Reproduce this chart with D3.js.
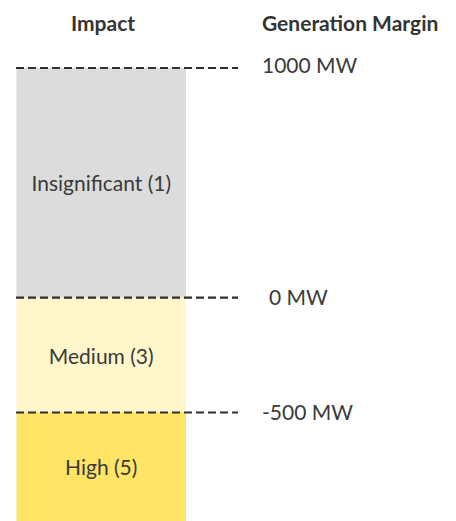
<!DOCTYPE html>
<html>
<head>
<meta charset="utf-8">
<script src="https://cdn.jsdelivr.net/npm/d3@7"></script>
<style>
  html, body { margin: 0; padding: 0; background: #fff; }
  svg { display: block; font-family: Lato, "Open Sans", sans-serif; }
</style>
</head>
<body>
<svg id="chart" width="456" height="521"></svg>
<script>
// Impact bands by generation margin (MW)
const bandNames = ["Insignificant (1)", "Medium (3)", "High (5)"];
const bandTop = [1000, 0, -500];
const bandBottom = [0, -500, -975];
const bandColors = ["#dcdcdc", "#fff6cc", "#ffe566"];

// Threshold lines and their labels
const thresholds = [1000, 0, -500];
const thresholdLabels = ["1000 MW", "0 MW", "-500 MW"];

const svg = d3.select("#chart");

const y = d3.scaleLinear().domain([1000, -500]).range([68, 412.5]);
const x = d3.scaleLinear().domain([0, 1]).range([16.5, 186]);

const bands = bandNames.map((name, i) => ({
  name, top: bandTop[i], bottom: bandBottom[i], color: bandColors[i]
}));

svg.append("g").selectAll("rect")
  .data(bands)
  .join("rect")
  .attr("x", x(0))
  .attr("width", x(1) - x(0))
  .attr("y", d => y(d.top))
  .attr("height", d => y(d.bottom) - y(d.top))
  .attr("fill", d => d.color);

svg.append("g").selectAll("text")
  .data(bands)
  .join("text")
  .attr("x", (x(0) + x(1)) / 2)
  .attr("y", d => (y(d.top) + Math.min(y(d.bottom), 521)) / 2)
  .attr("text-anchor", "middle")
  .attr("dominant-baseline", "central")
  .attr("font-size", 21)
  .attr("fill", "#3a3a3a")
  .text(d => d.name);

// dashed threshold lines
svg.append("g").selectAll("line")
  .data(thresholds)
  .join("line")
  .attr("x1", 16)
  .attr("x2", 238)
  .attr("y1", d => y(d))
  .attr("y2", d => y(d))
  .attr("stroke", "#2e2e2e")
  .attr("stroke-width", 2.2)
  .attr("stroke-dasharray", "8,4");

svg.append("g").selectAll("text")
  .data(thresholds)
  .join("text")
  .attr("x", d => d === 0 ? 269 : 262)
  .attr("y", d => y(d) - (d === 1000 ? 4 : 1))
  .attr("dominant-baseline", "central")
  .attr("font-size", 21)
  .attr("fill", "#3a3a3a")
  .text((d, i) => thresholdLabels[i]);

// column headers
svg.append("text")
  .attr("x", 103).attr("y", 22)
  .attr("text-anchor", "middle")
  .attr("dominant-baseline", "central")
  .attr("font-size", 21).attr("font-weight", "bold")
  .attr("fill", "#333")
  .text("Impact");

svg.append("text")
  .attr("x", 262).attr("y", 22)
  .attr("dominant-baseline", "central")
  .attr("font-size", 21).attr("font-weight", "bold")
  .attr("fill", "#333")
  .text("Generation Margin");
</script>
</body>
</html>
